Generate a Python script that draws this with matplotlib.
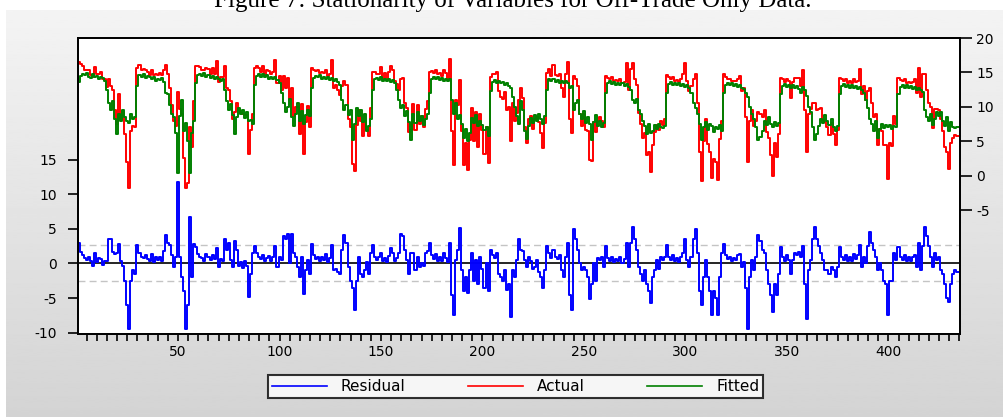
import matplotlib
matplotlib.use('Agg')
import matplotlib.pyplot as plt
import numpy as np

# values, one line per seasonal cycle
actual = [
    16.5, 16.2, 16.0, 15.4, 15.4, 15.4, 14.6, 14.4, 15.8, 14.7, 14.8, 15.0, 14.0, 14.1, 12.9, 14.1, 13.0, 12.4, 9.5, 7.5, 11.8, 8.3, 9.3, 6.0, 2.0, -1.8, 6.5, 7.2, 7.0,
    15.6, 16.1, 15.4, 15.5, 15.4, 15.1, 14.6, 15.4, 14.6, 14.7, 14.6, 14.9, 14.6, 15.4, 16.1, 14.8, 12.8, 10.2, 8.0, 7.2, 12.2, 9.7, 9.0, 2.5, -1.8, -1.0, 7.1, 4.2, 10.8,
    15.9, 16.0, 15.8, 15.3, 15.3, 15.6, 15.5, 14.7, 15.7, 14.7, 16.7, 13.6, 14.4, 14.4, 16.0, 12.8, 12.5, 10.9, 8.3, 9.3, 10.5, 9.5, 9.1, 9.0, 8.8, 8.8, 3.2, 6.6, 9.0,
    15.7, 16.0, 15.7, 15.0, 16.0, 14.6, 15.4, 15.2, 14.8, 15.0, 16.8, 13.4, 14.5, 12.5, 14.5, 12.7, 14.2, 11.2, 12.8, 8.7, 10.0, 10.0, 6.0, 10.4, 3.1, 7.8, 10.1, 7.1,
    15.6, 15.4, 15.2, 15.3, 14.9, 15.0, 14.9, 15.3, 14.5, 14.7, 16.8, 12.8, 13.2, 12.4, 11.7, 13.0, 13.7, 13.2, 8.3, 7.0, 1.7, 0.7, 7.3, 9.6, 8.0, 5.8, 7.9, 6.7, 5.7, 9.8,
    15.1, 15.0, 14.7, 14.8, 15.8, 14.1, 14.9, 13.9, 15.1, 15.9, 15.4, 13.8, 13.3, 12.5, 14.0, 14.2, 10.6, 9.9, 6.3, 6.7, 10.4, 6.6, 10.2, 7.5, 8.7, 7.0, 9.7, 10.8,
    15.0, 15.2, 14.9, 15.3, 14.8, 14.9, 14.5, 15.3, 14.9, 13.9, 17.0, 6.5, 1.5, 11.0, 10.2, 13.9, 6.5, 1.5, 4.8, 0.8, 5.2, 9.9, 5.1, 9.3, 4.2, 9.0, 6.6, 3.1, 7.0, 1.8,
    14.3, 14.8, 14.7, 15.0, 12.3, 11.4, 11.1, 12.2, 9.6, 10.0, 5.0, 10.5, 8.0, 9.1, 11.0, 12.8, 11.3, 7.0, 4.8, 8.2, 8.7, 6.8, 8.3, 8.5, 7.8, 6.2, 4.0, 7.6,
    14.9, 15.5, 14.5, 16.1, 14.6, 14.5, 14.7, 12.8, 11.4, 14.7, 16.5, 8.3, 6.2, 14.5, 14.0, 13.0, 9.0, 7.2, 8.9, 6.6, 6.5, 2.3, 2.2, 7.8, 6.3, 8.0, 8.5, 8.0, 7.1,
    14.5, 14.2, 14.1, 14.3, 13.8, 13.9, 13.8, 14.0, 13.4, 13.6, 16.3, 12.4, 15.5, 16.3, 14.0, 13.2, 9.1, 7.5, 5.5, 6.2, 3.0, 3.5, 0.5, 4.5, 6.4, 7.3, 6.7, 8.0, 7.4, 8.2,
    14.6, 14.3, 14.1, 14.4, 13.8, 13.9, 13.6, 14.0, 14.8, 16.4, 13.7, 12.3, 13.0, 14.0, 14.8, 10.5, 3.5, -0.8, 5.0, 8.3, 4.6, 3.5, -0.3, 2.4, 2.0, -0.7, 5.3, 8.0,
    14.8, 14.4, 14.1, 14.1, 13.8, 13.8, 13.8, 14.1, 14.5, 12.3, 12.8, 8.5, 2.0, 8.0, 9.5, 7.2, 8.0, 9.3, 8.9, 8.5, 9.5, 6.3, 5.5, 3.0, 0.0, 4.8, 2.7, 6.1,
    14.2, 14.0, 13.6, 14.1, 13.7, 11.3, 13.6, 14.2, 14.2, 14.2, 13.0, 15.4, 9.5, 3.5, 9.0, 9.7, 10.5, 10.5, 9.5, 9.7, 9.8, 8.1, 7.8, 7.0, 5.9, 7.7, 6.0, 4.5, 6.7,
    14.2, 14.0, 13.8, 14.1, 13.5, 13.7, 13.5, 14.0, 13.6, 13.8, 15.5, 11.9, 13.0, 11.0, 12.3, 12.7, 10.5, 8.5, 9.0, 4.5, 6.8, 6.5, 4.4, 4.4, -0.5, 4.8, 4.3, 8.7, 7.5,
    14.2, 13.9, 13.7, 14.0, 13.4, 13.6, 13.4, 13.6, 14.1, 12.0, 15.7, 11.4, 14.7, 14.8, 12.5, 10.5, 10.0, 6.9, 9.7, 9.7, 9.6, 8.3, 6.5, 4.2, 3.5, 0.9, 4.8, 5.5, 5.9, 5.8, 5.8,
]

fitted = [
    13.6, 14.5, 14.8, 14.6, 14.9, 14.4, 14.2, 14.7, 14.3, 14.5, 14.0, 14.4, 14.2, 13.8, 12.5, 10.5, 9.5, 10.8, 8.2, 6.0, 9.0, 8.0, 9.6, 8.5, 8.0, 7.7, 9.0, 8.2, 8.5,
    13.0, 14.6, 14.4, 14.7, 14.2, 14.5, 14.3, 14.0, 14.4, 13.8, 14.1, 13.9, 14.2, 13.6, 12.0, 11.8, 10.2, 9.0, 8.5, 6.2, 0.4, 8.7, 11.0, 6.5, 7.7, 5.0, 0.4, 6.2, 8.0,
    13.5, 14.6, 14.8, 14.5, 14.9, 14.3, 14.6, 14.2, 14.5, 14.0, 14.4, 14.1, 13.8, 14.0, 12.5, 10.8, 9.5, 10.4, 8.8, 6.0, 8.5, 9.8, 8.9, 9.6, 8.4, 9.2, 8.0, 8.1, 7.5,
    13.2, 14.5, 14.7, 14.4, 14.8, 14.3, 14.6, 14.1, 14.4, 14.0, 14.3, 13.9, 13.5, 12.0, 10.5, 9.2, 10.0, 11.2, 8.5, 7.2, 9.0, 10.5, 8.0, 9.4, 7.5, 8.8, 9.6, 8.6,
    12.8, 14.2, 14.5, 14.3, 14.6, 14.1, 14.4, 14.0, 14.3, 13.9, 14.2, 13.8, 14.0, 13.6, 13.2, 11.0, 9.6, 10.2, 8.8, 9.5, 5.2, 7.5, 9.8, 8.6, 9.5, 7.8, 8.9, 6.5, 7.2, 8.3,
    12.5, 14.0, 14.2, 13.9, 14.3, 13.8, 14.1, 13.7, 14.0, 13.6, 13.9, 13.4, 12.5, 11.0, 9.8, 10.2, 8.6, 9.4, 7.8, 5.2, 8.9, 7.6, 9.2, 8.0, 8.7, 7.4, 8.2, 9.0,
    12.0, 14.0, 14.3, 14.0, 14.4, 13.9, 14.2, 13.8, 14.1, 13.7, 14.0, 11.0, 9.0, 10.5, 8.2, 8.8, 7.5, 5.5, 6.8, 5.0, 6.2, 8.4, 7.6, 8.8, 7.2, 8.0, 7.4, 6.6, 7.0, 5.8,
    12.3, 13.6, 13.9, 13.5, 13.8, 13.4, 13.6, 13.2, 13.5, 13.0, 12.8, 11.5, 10.0, 8.6, 7.5, 10.8, 9.5, 6.5, 5.3, 7.2, 8.4, 7.6, 8.8, 8.0, 9.0, 8.2, 7.5, 8.6,
    12.4, 14.0, 13.7, 14.1, 13.6, 13.9, 13.5, 13.8, 13.4, 13.7, 13.5, 12.8, 13.0, 9.5, 10.5, 11.0, 9.0, 8.2, 9.4, 7.6, 8.5, 7.5, 5.2, 7.8, 8.8, 7.2, 8.0, 7.0, 7.6,
    12.0, 13.4, 13.7, 13.3, 13.6, 13.2, 13.5, 13.1, 13.4, 13.0, 13.3, 12.9, 12.5, 11.0, 10.5, 11.2, 9.6, 9.0, 8.0, 7.2, 6.0, 7.5, 6.2, 6.5, 7.4, 6.8, 7.5, 7.0, 6.9, 7.2,
    12.0, 13.3, 13.6, 13.2, 13.5, 13.1, 13.4, 13.0, 13.3, 12.9, 13.2, 12.8, 12.0, 10.5, 9.8, 9.0, 7.5, 5.2, 7.0, 7.8, 6.6, 7.5, 7.2, 6.4, 7.0, 6.8, 7.3, 6.5,
    12.0, 13.2, 13.5, 13.1, 13.4, 13.0, 13.3, 12.9, 13.2, 12.8, 12.6, 12.0, 11.5, 10.0, 9.0, 8.2, 7.0, 5.2, 5.6, 6.5, 8.0, 7.3, 8.5, 7.5, 7.0, 7.8, 7.2, 7.6,
    11.8, 13.0, 13.3, 12.9, 13.2, 12.8, 13.1, 12.7, 13.0, 12.6, 12.0, 12.9, 12.5, 11.6, 10.0, 9.2, 7.0, 5.2, 6.0, 7.2, 8.3, 7.6, 8.8, 8.0, 7.4, 8.2, 7.0, 6.5, 7.2,
    11.8, 13.0, 13.3, 12.9, 13.2, 12.8, 13.1, 12.7, 13.0, 12.6, 12.9, 12.4, 12.0, 11.0, 9.8, 8.2, 7.5, 6.5, 8.0, 5.5, 6.8, 7.5, 6.9, 7.4, 7.0, 7.3, 6.8, 7.2, 7.0,
    11.8, 12.9, 13.2, 12.8, 13.1, 12.7, 13.0, 12.6, 12.9, 12.5, 12.8, 12.4, 12.2, 9.5, 8.5, 8.0, 9.0, 7.4, 8.2, 9.2, 8.6, 9.3, 8.0, 7.2, 8.5, 6.5, 7.8, 7.0, 6.9, 7.1, 7.0,
]

residual = [
    2.9, 1.7, 1.2, 0.8, 0.5, 1.0, 0.4, -0.3, 1.5, 0.2, 0.8, 0.6, -0.2, 0.3, 0.4, 3.6, 3.5, 1.6, 1.3, 1.5, 2.8, 0.3, -0.3, -2.5, -6.0, -9.5, -2.5, -1.0, -1.5,
    2.6, 1.5, 1.0, 0.8, 1.2, 0.6, 0.3, 1.4, 0.2, 0.9, 0.5, 1.0, 0.4, 1.8, 4.1, 3.0, 2.6, 1.2, -0.5, 1.0, 11.8, 1.0, -2.0, -4.0, -9.5, -6.0, 6.7, -2.0, 2.8,
    2.4, 1.4, 1.0, 0.8, 0.4, 1.3, 0.9, 0.5, 1.2, 0.7, 2.3, -0.5, 0.6, 0.4, 3.5, 2.0, 3.0, 0.5, -0.5, 3.3, 2.0, -0.3, 0.2, -0.6, 0.4, -0.4, -4.8, -1.5, 1.5,
    2.5, 1.5, 1.0, 0.6, 1.2, 0.3, 0.8, 1.1, 0.4, 1.0, 2.5, -0.5, 1.0, 0.5, 4.0, 3.5, 4.2, 0.0, 4.3, 1.5, 1.0, -0.5, -2.0, 1.0, -4.4, -1.0, 0.5, -1.5,
    2.8, 1.2, 0.7, 1.0, 0.3, 0.9, 0.5, 1.3, 0.2, 0.8, 2.6, -1.0, -0.8, -1.2, -1.5, 2.0, 4.1, 3.0, -0.5, -2.5, -3.5, -6.8, -2.5, 1.0, -1.5, -2.0, -1.0, 0.2, -1.5, 1.5,
    2.6, 1.0, 0.5, 0.9, 1.5, 0.3, 0.8, 0.2, 1.1, 2.3, 1.5, 0.4, 0.8, 1.5, 4.2, 4.0, 2.0, 0.5, -1.5, 1.5, 1.5, -1.0, 1.0, -0.5, 0.0, -0.4, 1.5, 1.8,
    3.0, 1.2, 0.6, 1.3, 0.4, 1.0, 0.3, 1.5, 0.8, 0.2, 3.0, -4.5, -7.5, 0.5, 2.0, 5.1, -1.0, -4.0, -2.0, -4.2, -1.0, 1.5, -2.5, 0.5, -3.0, 1.0, -0.8, -3.5, 0.0, -4.0,
    2.0, 1.2, 0.8, 1.5, -1.5, -2.0, -2.5, -1.0, -3.9, -3.0, -7.8, -1.0, -2.0, 0.5, 3.5, 2.0, 1.8, 0.5, -0.5, 1.0, 0.3, -0.8, -0.5, 0.5, -1.2, -2.0, -3.5, -1.0,
    2.5, 1.5, 0.8, 2.0, 1.0, 0.6, 1.2, -1.0, -2.0, 1.0, 3.0, -4.5, -6.8, 5.0, 3.5, 2.0, 0.0, -1.0, -0.5, -1.0, -2.0, -5.2, -3.0, 0.0, -2.5, 0.8, 0.5, 1.0, -0.5,
    2.5, 0.8, 0.4, 1.0, 0.2, 0.7, 0.3, 0.9, 0.0, 0.6, 3.0, -0.5, 3.0, 5.3, 3.5, 2.0, -0.5, -1.5, -2.5, -1.0, -3.0, -4.0, -5.7, -2.0, -1.0, 0.5, -0.8, 1.0, 0.5, 1.0,
    2.6, 1.0, 0.5, 1.2, 0.3, 0.8, 0.2, 1.0, 1.5, 3.5, 0.5, -0.5, 1.0, 3.5, 5.0, 1.5, -4.0, -6.0, -2.0, 0.5, -2.0, -4.0, -7.5, -4.0, -5.0, -7.5, -2.0, 1.5,
    2.8, 1.2, 0.6, 1.0, 0.4, 0.8, 0.5, 1.2, 1.3, -0.5, 0.2, -3.5, -9.5, -2.0, 0.5, -1.0, 1.0, 4.1, 3.3, 2.0, 1.5, -1.0, -3.0, -4.5, -7.0, -3.0, -4.5, -1.5,
    2.4, 1.0, 0.3, 1.2, 0.5, -1.5, 0.5, 1.5, 1.2, 1.6, 1.0, 2.5, -3.0, -8.1, -1.0, 0.5, 3.5, 5.3, 3.5, 2.5, 1.5, 0.5, -1.0, -1.0, -1.5, -0.5, -1.0, -2.0, -0.5,
    2.4, 1.0, 0.5, 1.2, 0.3, 0.9, 0.4, 1.3, 0.6, 1.2, 2.6, -0.5, 1.0, 0.0, 2.5, 4.5, 3.0, 2.0, 1.0, -1.0, 0.0, -1.0, -2.5, -3.0, -7.5, -2.5, -2.5, 1.5, 0.5,
    2.4, 1.0, 0.5, 1.2, 0.3, 0.9, 0.4, 1.0, 1.2, -0.5, 2.9, -1.0, 2.5, 5.3, 4.0, 2.5, 1.0, -0.5, 1.5, 0.5, 1.0, -1.0, -1.5, -3.0, -5.0, -5.6, -3.0, -1.5, -1.0, -1.3, -1.2,
]

resid_band = 2.6
left_ticks = [-10, -5, 0, 5, 10, 15]
right_ticks = [-5, 0, 5, 10, 15, 20]
x_ticks = [50, 100, 150, 200, 250, 300, 350, 400]

obs = np.arange(1, len(actual) + 1)

plt.rcParams['font.family'] = 'DejaVu Sans'
plt.rcParams['axes.unicode_minus'] = False

W, H = 1004, 417
fig = plt.figure(figsize=(W / 100, H / 100), dpi=100)

# grey panel behind the chart
bg = fig.add_axes([0, 0, 1, 1], zorder=-10)
bg.axis('off')
grad = np.linspace(0.955, 0.83, 256).reshape(-1, 1)
bg.imshow(grad, cmap='gray', vmin=0, vmax=1, aspect='auto',
          extent=[6 / W, 1, 0, 1 - 10 / H])
bg.set_xlim(0, 1)
bg.set_ylim(0, 1)

fig.text(0.511, 1 - 7.5 / H, 'Figure 7: Stationarity of Variables for Off-Trade Only Data.',
         family='Liberation Serif', fontsize=18, ha='center', va='baseline')

L, R, T, B = 78, 960, 38, 334
ax = fig.add_axes([L / W, 1 - B / H, (R - L) / W, (B - T) / H])
ax2 = ax.twinx()

ax.axhline(0, color='black', lw=1.2, zorder=1)
ax.axhline(resid_band, color='#c4c4c4', lw=1, ls=(0, (5, 3)), zorder=1)
ax.axhline(-resid_band, color='#c4c4c4', lw=1, ls=(0, (5, 3)), zorder=1)
l_res, = ax.plot(obs, residual, color='#0000ff', lw=1.4, drawstyle='steps-mid', zorder=2)
l_act, = ax2.plot(obs, actual, color='#ff0000', lw=1.4, drawstyle='steps-mid')
l_fit, = ax2.plot(obs, fitted, color='#008000', lw=1.4, drawstyle='steps-mid')

ax.set_xlim(0.7, 435.3)
ax.set_ylim(-10.2, 32.6)
ax2.set_ylim(-23, 20)

ax.set_yticks(left_ticks)
ax2.set_yticks(right_ticks)
ax.set_xticks(x_ticks)
ax.set_xticks(np.arange(5, 436, 5), minor=True)

ax.tick_params(axis='y', direction='out', length=7, width=1.2, labelsize=10, pad=8)
ax2.tick_params(axis='y', direction='out', length=8.5, width=1.2, labelsize=10, pad=3)
ax.tick_params(axis='x', which='both', direction='out', length=5, width=1.2, labelsize=10, pad=3)

for a in (ax, ax2):
    for s in a.spines.values():
        s.set_linewidth(1.3)
ax.set_facecolor('white')

leg = fig.legend([l_res, l_act, l_fit], ['Residual', 'Actual', 'Fitted'],
                 loc='center', mode='expand',
                 bbox_to_anchor=(268 / W, 1 - 398 / H, 495 / W, 23 / H), ncol=3,
                 frameon=True, fancybox=False, edgecolor='black', fontsize=11,
                 handlelength=3.6, handletextpad=0.9, columnspacing=2.0,
                 borderpad=0.25, borderaxespad=0)
leg.get_frame().set_linewidth(1.5)
for h in leg.legend_handles:
    h.set_linewidth(1.2)

fig.savefig('out.png', dpi=100)
